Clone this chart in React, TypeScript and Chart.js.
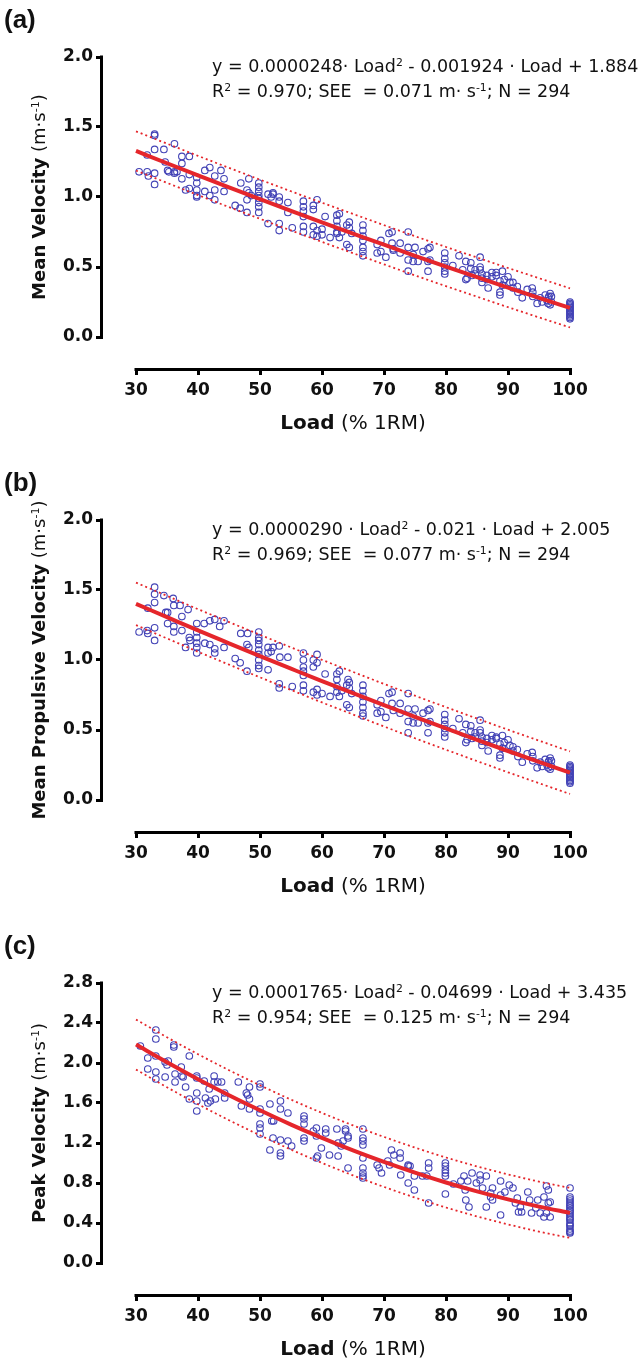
import React, { useEffect, useRef } from 'react';
import { Chart, registerables } from 'chart.js';

Chart.register(...registerables);

// ---------- data ----------
const xTicks = [30, 40, 50, 60, 70, 80, 90, 100];
const yTicksAB = [0, 0.5, 1.0, 1.5, 2.0];
const yTicksC = [0, 0.4, 0.8, 1.2, 1.6, 2.0, 2.4, 2.8];

const fitLoads = [30, 35, 40, 45, 50, 55, 60, 65, 70, 75, 80, 85, 90, 95, 100];

const fitMV = [1.329, 1.241, 1.154, 1.068, 0.984, 0.901, 0.819, 0.739, 0.659, 0.580, 0.503, 0.428, 0.353, 0.280, 0.208];
const upperMV = [1.469, 1.381, 1.294, 1.208, 1.124, 1.041, 0.959, 0.879, 0.799, 0.720, 0.643, 0.568, 0.493, 0.420, 0.348];
const lowerMV = [1.189, 1.101, 1.014, 0.928, 0.844, 0.761, 0.679, 0.599, 0.519, 0.440, 0.363, 0.288, 0.213, 0.140, 0.068];

const fitMPV = [1.401, 1.306, 1.211, 1.119, 1.028, 0.938, 0.849, 0.763, 0.677, 0.593, 0.511, 0.430, 0.350, 0.272, 0.195];
const upperMPV = [1.553, 1.458, 1.363, 1.271, 1.180, 1.090, 1.001, 0.915, 0.829, 0.745, 0.663, 0.582, 0.502, 0.424, 0.347];
const lowerMPV = [1.249, 1.154, 1.059, 0.967, 0.876, 0.786, 0.697, 0.611, 0.525, 0.441, 0.359, 0.278, 0.198, 0.120, 0.043];

const fitPV = [2.184, 2.007, 1.838, 1.678, 1.527, 1.384, 1.251, 1.126, 1.011, 0.904, 0.805, 0.716, 0.636, 0.564, 0.501];
const upperPV = [2.434, 2.257, 2.088, 1.928, 1.777, 1.634, 1.501, 1.376, 1.261, 1.154, 1.055, 0.966, 0.886, 0.814, 0.751];
const lowerPV = [1.934, 1.757, 1.588, 1.428, 1.277, 1.134, 1.001, 0.876, 0.761, 0.654, 0.555, 0.466, 0.386, 0.314, 0.251];

// [load, velocities at that load]
const mvPoints: [number, number[]][] = [
  [30.5, [1.18]], [31.8, [1.18, 1.30]], [32.0, [1.15]], [33.0, [1.45, 1.44, 1.34, 1.17, 1.09]], [34.5, [1.34]],
  [34.7, [1.25]], [35.1, [1.19]], [35.3, [1.18]], [36.2, [1.38, 1.18, 1.17]], [36.6, [1.18]], [37.4, [1.29, 1.24, 1.13]],
  [38.0, [1.05]], [38.6, [1.29, 1.16, 1.06]], [39.8, [1.14, 1.10, 1.05, 1.01, 1.00]], [41.1, [1.19, 1.04]],
  [41.9, [1.21, 1.01]], [42.7, [1.15, 1.05, 0.98]], [43.7, [1.19]], [44.2, [1.13, 1.04]], [46.0, [0.94]], [46.8, [0.92]],
  [46.9, [1.10]], [47.9, [1.05, 0.98, 0.89]], [48.2, [1.13, 1.03]], [48.6, [1.01]],
  [49.8, [1.10, 1.07, 1.04, 1.01, 0.99, 0.96, 0.93, 0.89]], [51.3, [1.02, 0.81]], [51.8, [1.00]], [52.1, [1.02, 1.03]],
  [53.1, [1.00, 0.97, 0.81, 0.76]], [54.5, [0.96, 0.89]], [55.2, [0.78]], [57.0, [0.97, 0.93, 0.90, 0.86, 0.79, 0.75]],
  [58.6, [0.94, 0.91, 0.79, 0.73]], [59.2, [0.98, 0.76, 0.72]], [60.0, [0.77, 0.73]], [60.5, [0.86]], [61.3, [0.71]],
  [62.4, [0.87, 0.83, 0.79, 0.75, 0.74]], [62.8, [0.88, 0.71]], [63.2, [0.75]], [64.0, [0.80, 0.66]],
  [64.4, [0.82, 0.78, 0.64]], [64.8, [0.74]], [66.6, [0.80, 0.76, 0.72, 0.69, 0.64, 0.61, 0.58]], [68.9, [0.66, 0.60]],
  [69.5, [0.69, 0.61]], [70.3, [0.57]], [70.8, [0.74]], [71.3, [0.75, 0.67]], [71.5, [0.63, 0.62]], [72.6, [0.67, 0.60]],
  [73.9, [0.75, 0.64, 0.55, 0.47]], [74.7, [0.59, 0.54]], [75.0, [0.64]], [75.5, [0.54]], [76.3, [0.61]],
  [77.1, [0.63, 0.54, 0.47]], [77.4, [0.64, 0.55]], [79.8, [0.60, 0.56, 0.53, 0.50, 0.47, 0.45]], [81.1, [0.51]],
  [82.1, [0.58]], [82.7, [0.48]], [83.2, [0.54, 0.41]], [83.4, [0.42]], [84.0, [0.53, 0.49]], [84.2, [0.44]],
  [84.7, [0.48, 0.45]], [85.5, [0.57, 0.50, 0.48]], [85.8, [0.45, 0.42, 0.39]], [86.6, [0.44, 0.41]], [86.8, [0.35]],
  [87.4, [0.46, 0.43]], [88.1, [0.46, 0.44]], [88.7, [0.40, 0.32, 0.30]], [89.1, [0.47, 0.37]], [89.4, [0.41]],
  [90.0, [0.43]], [90.3, [0.39]], [90.8, [0.39, 0.35]], [91.5, [0.36]], [91.6, [0.32]], [92.3, [0.28]], [93.1, [0.34]],
  [93.9, [0.35]], [94.0, [0.32, 0.29]], [94.7, [0.24]], [95.2, [0.28]], [95.5, [0.25]], [96.0, [0.30]], [96.3, [0.26]],
  [96.5, [0.28, 0.24]], [96.6, [0.29]], [96.8, [0.31, 0.23]], [97.0, [0.29, 0.25]],
  [100, [0.25, 0.24, 0.23, 0.22, 0.21, 0.20, 0.19, 0.18, 0.17, 0.16, 0.15, 0.14, 0.13]],
];

const mpvPoints: [number, number[]][] = [
  [30.5, [1.20]], [31.8, [1.21]], [31.9, [1.37, 1.19]], [33.0, [1.52, 1.47, 1.41, 1.23, 1.14]], [34.5, [1.46]],
  [34.8, [1.34]], [35.1, [1.34, 1.26]], [36.0, [1.44]], [36.1, [1.39, 1.24, 1.20]], [37.1, [1.39]], [37.4, [1.31, 1.21]],
  [38.0, [1.09]], [38.4, [1.36]], [38.6, [1.16]], [38.7, [1.14]], [39.8, [1.26, 1.20, 1.16, 1.12, 1.09, 1.05]],
  [41.0, [1.26]], [41.1, [1.12]], [41.9, [1.28, 1.11]], [42.7, [1.29, 1.08, 1.05]], [43.5, [1.24]], [44.2, [1.28, 1.09]],
  [46.0, [1.01]], [46.8, [0.98]], [46.9, [1.19]], [47.9, [1.11, 0.92]], [48.0, [1.19]], [48.2, [1.09]],
  [49.8, [1.20, 1.16, 1.14, 1.11, 1.07, 1.04, 1.00, 0.96, 0.94]], [51.3, [1.09, 1.05, 0.93]], [51.8, [1.06]],
  [52.1, [1.09]], [53.1, [1.10, 0.83, 0.80]], [53.2, [1.02]], [54.5, [1.02]], [55.2, [0.81]],
  [57.0, [1.05, 1.00, 0.95, 0.92, 0.89, 0.82, 0.78]], [58.6, [1.00, 0.95, 0.77]], [59.2, [1.04, 0.98, 0.79, 0.75]],
  [60.0, [0.76]], [60.5, [0.90]], [61.3, [0.74]], [62.4, [0.90, 0.86, 0.81, 0.77]], [62.8, [0.92, 0.74]], [63.2, [0.78]],
  [64.0, [0.82, 0.68]], [64.2, [0.86]], [64.4, [0.84, 0.80, 0.66]], [64.8, [0.76]],
  [66.6, [0.82, 0.78, 0.74, 0.70, 0.66, 0.62, 0.60]], [68.9, [0.68, 0.62]], [69.5, [0.71, 0.63]], [70.3, [0.59]],
  [70.8, [0.76]], [71.3, [0.77, 0.69]], [71.5, [0.64]], [72.6, [0.69, 0.62]], [73.9, [0.76, 0.65, 0.56, 0.48]],
  [74.7, [0.60, 0.55]], [75.0, [0.65]], [75.5, [0.55]], [76.3, [0.62]], [77.1, [0.64, 0.55, 0.48]], [77.4, [0.65, 0.56]],
  [79.8, [0.61, 0.57, 0.54, 0.51, 0.48, 0.45]], [81.1, [0.51]], [82.1, [0.58]], [82.7, [0.48]], [83.2, [0.54, 0.41]],
  [83.4, [0.43]], [84.0, [0.53, 0.49]], [84.2, [0.44]], [84.7, [0.48, 0.45]], [85.5, [0.57, 0.50, 0.48]],
  [85.8, [0.45, 0.42, 0.39]], [86.6, [0.44, 0.41]], [86.8, [0.35]], [87.4, [0.46, 0.43]], [88.1, [0.45, 0.44]],
  [88.7, [0.40, 0.32, 0.30]], [89.1, [0.46, 0.37]], [89.4, [0.41]], [90.0, [0.43]], [90.3, [0.39]], [90.8, [0.38, 0.35]],
  [91.5, [0.36]], [91.6, [0.31]], [92.3, [0.27]], [93.1, [0.33]], [93.9, [0.34]], [94.0, [0.31, 0.28]], [94.7, [0.23]],
  [95.2, [0.27]], [95.5, [0.24]], [96.0, [0.29]], [96.3, [0.25]], [96.5, [0.27, 0.23]], [96.6, [0.28]],
  [96.8, [0.30, 0.22]], [97.0, [0.28, 0.24]],
  [100, [0.25, 0.24, 0.23, 0.22, 0.21, 0.20, 0.19, 0.18, 0.17, 0.16, 0.15, 0.14, 0.13, 0.12]],
];

const pvPoints: [number, number[]][] = [
  [30.7, [2.17]], [31.9, [2.05, 1.94]], [33.2, [2.33, 2.24, 2.07, 1.91, 1.84]], [34.7, [2.01, 1.86]], [35.0, [1.98]],
  [35.2, [2.02]], [36.1, [2.18, 2.16]], [36.3, [1.89, 1.81]], [37.3, [1.96]], [37.4, [1.87]], [37.6, [1.86]],
  [38.0, [1.76]], [38.6, [2.07, 1.64]], [39.8, [1.87, 1.85, 1.70, 1.62, 1.52]], [41.0, [1.82]], [41.2, [1.65]],
  [41.6, [1.60]], [41.8, [1.74]], [42.0, [1.62]], [42.6, [1.87, 1.81]], [42.8, [1.64]], [43.2, [1.81]], [43.8, [1.81]],
  [44.3, [1.70, 1.65]], [46.5, [1.81]], [47.0, [1.57]], [47.8, [1.70]], [48.0, [1.68]], [48.3, [1.76, 1.64, 1.54]],
  [50.0, [1.79, 1.76, 1.54, 1.50, 1.39, 1.35, 1.29]], [51.6, [1.59, 1.13]], [51.9, [1.42]], [52.1, [1.25]],
  [52.2, [1.42]], [53.3, [1.62, 1.54, 1.23, 1.10, 1.07]], [54.5, [1.50, 1.22]], [55.1, [1.17]],
  [57.1, [1.47, 1.44, 1.39, 1.25, 1.22]], [58.6, [1.32]], [59.1, [1.35, 1.27, 1.05]], [59.3, [1.07]], [59.9, [1.15]],
  [60.6, [1.34, 1.30]], [61.2, [1.08]], [62.4, [1.34]], [62.6, [1.20, 1.07]], [63.1, [1.17]], [63.4, [1.22]],
  [63.8, [1.34, 1.32]], [64.2, [1.27, 1.25, 0.95]], [66.6, [1.34, 1.25, 1.22, 1.18, 1.05, 0.95, 0.90, 0.87, 0.85]],
  [68.9, [0.98]], [69.2, [0.95]], [69.6, [0.90]], [70.6, [1.02]], [70.9, [0.98]], [71.2, [1.13]], [71.6, [1.08]],
  [72.6, [1.10, 1.05]], [72.7, [0.88]], [73.9, [0.98, 0.97, 0.80]], [74.2, [0.97]], [74.9, [0.87, 0.73]], [76.2, [0.87]],
  [76.9, [0.87]], [77.2, [1.00, 0.95, 0.60]], [79.9, [1.00, 0.97, 0.93, 0.90, 0.87, 0.69]], [81.2, [0.79]],
  [82.4, [0.82]], [82.9, [0.87]], [83.1, [0.73]], [83.2, [0.63]], [83.5, [0.82]], [83.7, [0.56]], [84.2, [0.90]],
  [84.9, [0.80]], [85.5, [0.88, 0.83]], [85.9, [0.75]], [86.5, [0.87, 0.56]], [87.2, [0.70, 0.66]], [87.5, [0.75, 0.63]],
  [88.8, [0.82, 0.68, 0.48]], [89.5, [0.71]], [90.2, [0.78]], [90.8, [0.75]], [91.2, [0.60]], [91.5, [0.65]],
  [91.7, [0.51]], [92.0, [0.56]], [92.2, [0.51]], [93.2, [0.71]], [93.5, [0.63]], [93.8, [0.50]], [94.5, [0.55]],
  [94.8, [0.63]], [95.2, [0.50]], [95.8, [0.66, 0.46]], [96.2, [0.77, 0.50]], [96.5, [0.73, 0.60]], [96.8, [0.61, 0.46]],
  [100, [0.75, 0.66, 0.64, 0.62, 0.60, 0.58, 0.57, 0.55, 0.53, 0.52, 0.50, 0.48, 0.46, 0.44, 0.43, 0.40, 0.38, 0.37, 0.34, 0.32, 0.31, 0.30]],
];

// ---------- styling ----------
const RED = '#e5262b';
const BLUE = '#4343b6';
const FONT = "'DejaVu Sans', 'Liberation Sans', Arial, sans-serif";
const CANVAS_W = 644;
const CANVAS_H = 440;
const AREA_TOP = 57;
const ZERO_Y = 337;
const AXIS_Y = 368;
const AREA_LEFT = 103;
const AREA_RIGHT = 582;

const axisLines = {
  id: 'axisLines',
  afterDraw(chart: any) {
    const { ctx, chartArea, scales } = chart;
    const x = scales.x;
    const y = scales.y;
    ctx.save();
    ctx.strokeStyle = '#000';
    ctx.lineWidth = 3;
    ctx.beginPath();
    ctx.moveTo(chartArea.left - 1.5, y.getPixelForValue(y.max) - 1.5);
    ctx.lineTo(chartArea.left - 1.5, y.getPixelForValue(0) + 1.5);
    ctx.stroke();
    ctx.beginPath();
    ctx.moveTo(x.getPixelForValue(30) - 1.5, chartArea.bottom + 1.5);
    ctx.lineTo(x.getPixelForValue(100) + 1.5, chartArea.bottom + 1.5);
    ctx.stroke();
    ctx.restore();
  },
};

const Sup = ({ children }: { children: any }) => (
  <span style={{ fontSize: '0.62em', position: 'relative', top: '-0.55em' }}>{children}</span>
);

type PanelProps = {
  top: number;
  label: string;
  yTitle: string;
  points: [number, number[]][];
  fit: number[];
  upper: number[];
  lower: number[];
  yMax: number;
  yTicks: number[];
  eqStart: string;
  eqEnd: string;
  r2: string;
  see: string;
};

function Panel(p: PanelProps) {
  const ref = useRef<HTMLCanvasElement>(null);
  useEffect(() => {
    const pxPerUnit = (ZERO_Y - AREA_TOP) / p.yMax;
    const yMin = -(AXIS_Y - ZERO_Y) / pxPerUnit;
    const xPx = (570 - 136) / 70;
    const xMin = 30 - (136 - AREA_LEFT) / xPx;
    const xMax = 100 + (AREA_RIGHT - 570) / xPx;
    const scatter = p.points.flatMap(([x, ys]) => ys.map((y) => ({ x, y })));
    const line = (vals: number[]) => fitLoads.map((x, i) => ({ x, y: vals[i] }));
    const tickFont = { family: FONT, size: 17, weight: 'bold' as const };
    const grid = {
      display: true,
      drawOnChartArea: false,
      drawTicks: true,
      tickLength: 7,
      tickWidth: 3,
      tickColor: '#000',
      color: '#000',
      lineWidth: 3,
    };
    const chart = new Chart(ref.current as HTMLCanvasElement, {
      type: 'scatter',
      data: {
        datasets: [
          {
            data: line(p.fit), showLine: true, borderColor: RED, borderWidth: 4, pointRadius: 0,
            tension: 0.4, cubicInterpolationMode: 'monotone', fill: false,
          },
          {
            data: line(p.upper), showLine: true, borderColor: RED, borderWidth: 1.8, borderDash: [2, 3],
            pointRadius: 0, tension: 0.4, cubicInterpolationMode: 'monotone', fill: false,
          },
          {
            data: line(p.lower), showLine: true, borderColor: RED, borderWidth: 1.8, borderDash: [2, 3],
            pointRadius: 0, tension: 0.4, cubicInterpolationMode: 'monotone', fill: false,
          },
          {
            data: scatter, showLine: false, pointStyle: 'circle', pointRadius: 3.3, borderWidth: 1.1,
            borderColor: BLUE, backgroundColor: 'rgba(0,0,0,0)',
          },
        ] as any,
      },
      options: {
        responsive: false,
        animation: false,
        devicePixelRatio: 1,
        events: [],
        layout: { padding: { top: AREA_TOP, right: CANVAS_W - AREA_RIGHT, left: 0, bottom: 0 } },
        plugins: { legend: { display: false }, tooltip: { enabled: false } },
        scales: {
          x: {
            type: 'linear',
            min: xMin,
            max: xMax,
            afterBuildTicks: (s: any) => { s.ticks = xTicks.map((v) => ({ value: v })); },
            afterFit: (s: any) => { s.height = CANVAS_H - AXIS_Y; },
            border: { display: false },
            grid,
            ticks: {
              font: tickFont, color: '#111', padding: 5, maxRotation: 0, autoSkip: false,
              callback: (v: any) => String(v),
            },
          },
          y: {
            type: 'linear',
            min: yMin,
            max: p.yMax,
            afterBuildTicks: (s: any) => { s.ticks = p.yTicks.map((v) => ({ value: v })); },
            afterFit: (s: any) => { s.width = AREA_LEFT; },
            border: { display: false },
            grid,
            ticks: {
              font: tickFont, color: '#111', padding: 3, autoSkip: false,
              callback: (v: any) => Number(v).toFixed(1),
            },
          },
        },
      } as any,
      plugins: [axisLines],
    });
    return () => chart.destroy();
  }, []);

  return (
    <div style={{ position: 'absolute', left: 0, top: p.top, width: CANVAS_W, height: CANVAS_H }}>
      <canvas ref={ref} width={CANVAS_W} height={CANVAS_H} style={{ position: 'absolute', left: 0, top: 0 }} />
      <div style={{ position: 'absolute', left: 4, top: 5, font: `bold 26px 'Liberation Sans', Arial, sans-serif`, lineHeight: '28px', color: '#111' }}>
        {p.label}
      </div>
      <div style={{ position: 'absolute', left: 212, top: AREA_TOP - 2, fontFamily: FONT, fontSize: 17.5, lineHeight: '23px', color: '#111', whiteSpace: 'pre' }}>
        <div>{p.eqStart}<Sup>2</Sup>{p.eqEnd}</div>
        <div>R<Sup>2</Sup>{` = ${p.r2}; SEE  = ${p.see} m· s`}<Sup>-1</Sup>{'; N = 294'}</div>
      </div>
      <div style={{
        position: 'absolute', left: 40, top: (AREA_TOP + ZERO_Y) / 2, transform: 'translate(-50%, -50%) rotate(-90deg)',
        whiteSpace: 'nowrap', fontFamily: FONT, fontSize: 18, color: '#111', lineHeight: '20px',
      }}>
        <b>{p.yTitle}</b>{' (m·s'}<Sup>-1</Sup>{')'}
      </div>
      <div style={{
        position: 'absolute', left: 353, top: 422, transform: 'translate(-50%, -50%)',
        whiteSpace: 'nowrap', fontFamily: FONT, fontSize: 20, color: '#111', lineHeight: '22px',
      }}>
        <b>Load</b>{' (% 1RM)'}
      </div>
    </div>
  );
}

export default function App() {
  return (
    <div style={{ position: 'absolute', left: 0, top: 0, width: 644, height: 1365, background: '#fff', overflow: 'hidden' }}>
      <Panel top={0} label="(a)" yTitle="Mean Velocity" points={mvPoints} fit={fitMV} upper={upperMV} lower={lowerMV}
        yMax={2.0} yTicks={yTicksAB} eqStart="y = 0.0000248· Load" eqEnd=" - 0.001924 · Load + 1.884" r2="0.970" see="0.071" />
      <Panel top={463} label="(b)" yTitle="Mean Propulsive Velocity" points={mpvPoints} fit={fitMPV} upper={upperMPV} lower={lowerMPV}
        yMax={2.0} yTicks={yTicksAB} eqStart="y = 0.0000290 · Load" eqEnd=" - 0.021 · Load + 2.005" r2="0.969" see="0.077" />
      <Panel top={926} label="(c)" yTitle="Peak Velocity" points={pvPoints} fit={fitPV} upper={upperPV} lower={lowerPV}
        yMax={2.8} yTicks={yTicksC} eqStart="y = 0.0001765· Load" eqEnd=" - 0.04699 · Load + 3.435" r2="0.954" see="0.125" />
    </div>
  );
}
